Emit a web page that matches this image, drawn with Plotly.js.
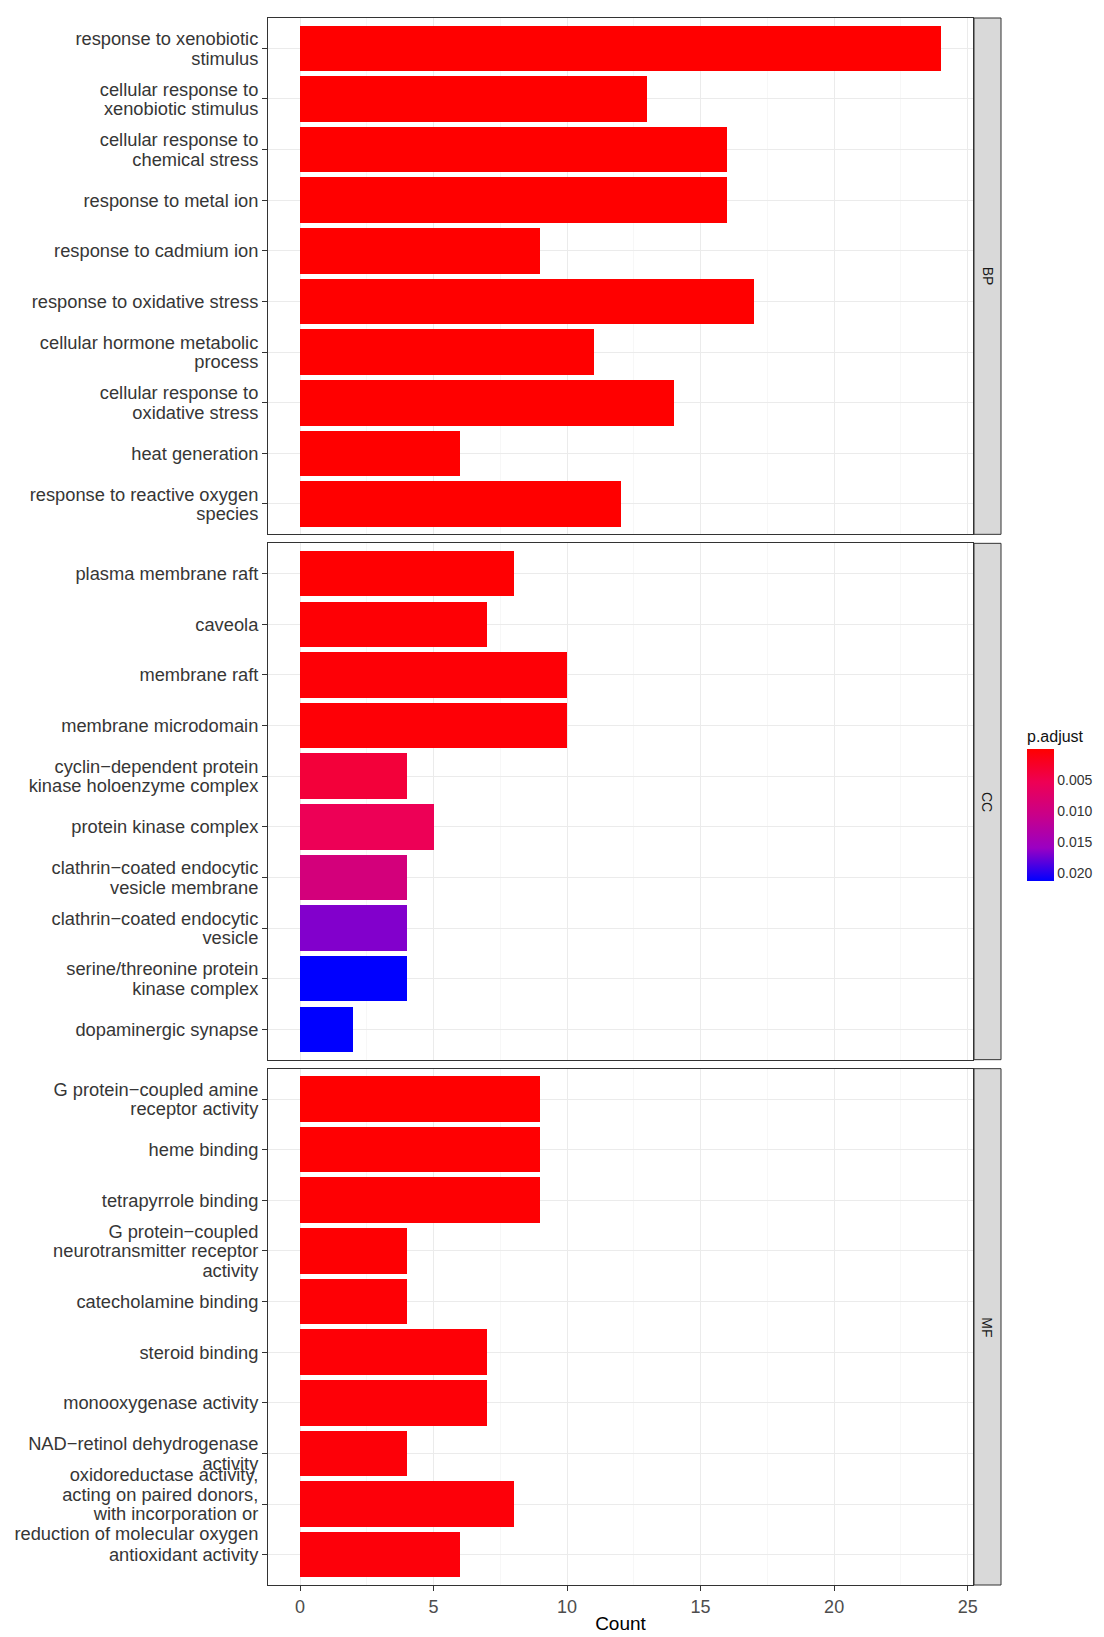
<!DOCTYPE html>
<html><head><meta charset="utf-8">
<script src="https://cdn.plot.ly/plotly-3.0.1.min.js"></script>
<style>html,body{margin:0;padding:0;background:#fff}#chart{width:1104px;height:1637px}</style>
</head><body><div id="chart"></div>
<script>
// ---- data ----
const bpTerms = [
  "response to xenobiotic<br>stimulus",
  "cellular response to<br>xenobiotic stimulus",
  "cellular response to<br>chemical stress",
  "response to metal ion",
  "response to cadmium ion",
  "response to oxidative stress",
  "cellular hormone metabolic<br>process",
  "cellular response to<br>oxidative stress",
  "heat generation",
  "response to reactive oxygen<br>species"
];
const bpCounts = [24, 13, 16, 16, 9, 17, 11, 14, 6, 12];
const bpPadj = [1.2e-9, 3.5e-7, 8.1e-7, 8.1e-7, 1.9e-6, 2.4e-6, 4.0e-6, 5.2e-6, 6.8e-6, 7.5e-6];

const ccTerms = [
  "plasma membrane raft",
  "caveola",
  "membrane raft",
  "membrane microdomain",
  "cyclin\u2212dependent protein<br>kinase holoenzyme complex",
  "protein kinase complex",
  "clathrin\u2212coated endocytic<br>vesicle membrane",
  "clathrin\u2212coated endocytic<br>vesicle",
  "serine/threonine protein<br>kinase complex",
  "dopaminergic synapse"
];
const ccCounts = [8, 7, 10, 10, 4, 5, 4, 4, 4, 2];
const ccPadj = [0.00012, 0.00030, 0.00041, 0.00041, 0.0037, 0.0055, 0.0092, 0.0168, 0.0213, 0.0213];

const mfTerms = [
  "G protein\u2212coupled amine<br>receptor activity",
  "heme binding",
  "tetrapyrrole binding",
  "G protein\u2212coupled<br>neurotransmitter receptor<br>activity",
  "catecholamine binding",
  "steroid binding",
  "monooxygenase activity",
  "NAD\u2212retinol dehydrogenase<br>activity",
  "oxidoreductase activity,<br>acting on paired donors,<br>with incorporation or<br>reduction of molecular oxygen",
  "antioxidant activity"
];
const mfCounts = [9, 9, 9, 4, 4, 7, 7, 4, 8, 6];
const mfPadj = [0.00008, 0.00015, 0.00018, 0.00022, 0.00030, 0.00035, 0.00042, 0.00048, 0.00055, 0.00061];

const facetNames = ["BP", "CC", "MF"];
const legendTicks = [0.005, 0.010, 0.015, 0.020];
const legendTickText = ["0.005", "0.010", "0.015", "0.020"];

// ---- build ----
const allP = bpPadj.concat(ccPadj, mfPadj);
const pMax = Math.max(...allP), pMin = Math.min(...allP);
// red (low p) -> blue (high p), Lab-like interpolation; mapped on -p so colorbar shows low at top
const cscale = [[0, '#0000FF'], [0.25, '#9A00C3'], [0.5, '#C90089'], [0.75, '#EE0054'], [1, '#FF0000']];

const panels = [
  {terms: bpTerms, counts: bpCounts, padj: bpPadj},
  {terms: ccTerms, counts: ccCounts, padj: ccPadj},
  {terms: mfTerms, counts: mfCounts, padj: mfPadj}
];

const H = 1567; // plot area height
const gap = 9 / H;
const ph = (1 - 2 * gap) / 3;
const domains = [[1 - ph, 1], [ph + gap, 2 * ph + gap], [0, ph]];
const FF = 'Liberation Sans, Arial, sans-serif';

const traces = panels.map((p, i) => ({
  type: 'bar', orientation: 'h',
  x: p.counts, y: p.terms, width: 0.9,
  xaxis: i === 0 ? 'x' : 'x' + (i + 1),
  yaxis: i === 0 ? 'y' : 'y' + (i + 1),
  hoverinfo: 'x+y',
  marker: {
    color: p.padj.map(v => -v),
    colorscale: cscale, cmin: -pMax, cmax: -pMin,
    line: {width: 0},
    showscale: i === 0,
    colorbar: i === 0 ? {
      x: (1027 - 268) / 705, xanchor: 'left', xpad: 0,
      y: (1585 - 804) / H, yanchor: 'middle', ypad: 0,
      len: 154, lenmode: 'pixels', thickness: 27, thicknessmode: 'pixels',
      outlinewidth: 0,
      tickvals: legendTicks.map(v => -v), ticktext: legendTickText,
      ticks: '',
      tickfont: {family: FF, size: 14, color: '#333'},
      title: {text: 'p.adjust', side: 'top', font: {family: FF, size: 16, color: '#111'}}
    } : undefined
  }
}));

const layout = {
  width: 1104, height: 1637,
  margin: {l: 268, r: 131, t: 18, b: 52},
  paper_bgcolor: '#fff', plot_bgcolor: '#fff',
  showlegend: false, bargap: 0,
  font: {family: FF},
  shapes: [], annotations: []
};

for (let i = 0; i < 3; i++) {
  const s = i === 0 ? '' : String(i + 1);
  const isBottom = i === 2;
  layout['xaxis' + s] = {
    anchor: 'y' + s, domain: [0, 1], range: [-1.2, 25.2],
    dtick: 5, tick0: 0,
    showgrid: true, gridcolor: '#EBEBEB', gridwidth: 1,
    minor: {dtick: 2.5, tick0: 0, showgrid: true, gridcolor: '#F3F3F3', gridwidth: 0.7},
    zeroline: false,
    showline: true, mirror: true, linecolor: '#333', linewidth: 1,
    ticks: isBottom ? 'outside' : '', ticklen: 5, tickcolor: '#333',
    showticklabels: isBottom,
    tickfont: {family: FF, size: 18, color: '#4D4D4D'},
    title: isBottom ? {text: 'Count', standoff: 1, font: {family: FF, size: 19, color: '#000'}} : undefined,
    fixedrange: true
  };
  layout['yaxis' + s] = {
    anchor: 'x' + s, domain: domains[i], type: 'category',
    categoryorder: 'array', categoryarray: panels[i].terms,
    range: [9.6, -0.6],
    showgrid: true, gridcolor: '#EBEBEB', gridwidth: 1,
    zeroline: false,
    showline: true, mirror: true, linecolor: '#333', linewidth: 1,
    ticks: 'outside', ticklen: 5, tickcolor: '#333',
    tickfont: {family: FF, size: 18.3, color: '#363636'},
    fixedrange: true
  };
  // facet strip
  const sx0 = (974 - 268) / 705, sx1 = (1001 - 268) / 705;
  layout.shapes.push({
    type: 'rect', xref: 'paper', yref: 'paper',
    x0: sx0, x1: sx1, y0: domains[i][0], y1: domains[i][1],
    fillcolor: '#D9D9D9', line: {color: '#333', width: 1}
  });
  layout.annotations.push({
    xref: 'paper', yref: 'paper', x: (sx0 + sx1) / 2, y: (domains[i][0] + domains[i][1]) / 2,
    xanchor: 'center', yanchor: 'middle',
    text: facetNames[i], showarrow: false, textangle: 90,
    font: {family: FF, size: 14, color: '#1A1A1A'}
  });
}

// tighter line spacing for multi-line tick labels (ggplot lineheight ~0.9)
const PLOTLY_LS = 1.3, TARGET_LS = 1.07;
Plotly.newPlot('chart', traces, layout, {displayModeBar: false, staticPlot: true}).then(gd => {
  gd.querySelectorAll('g.yaxislayer-above text').forEach(t => {
    const lines = Array.from(t.querySelectorAll('tspan.line'));
    if (lines.length < 2) return;
    const n = lines.length;
    const shift = (n - 1) * (PLOTLY_LS - TARGET_LS) / 2;
    lines.forEach(ln => {
      const dy = parseFloat(ln.getAttribute('dy') || '0');
      const idx = Math.round(dy / PLOTLY_LS);
      const base = dy - idx * PLOTLY_LS; // keep plotly's own centering offset
      ln.setAttribute('dy', (base + idx * TARGET_LS + shift).toFixed(4) + 'em');
    });
  });
});
</script>
</body></html>
